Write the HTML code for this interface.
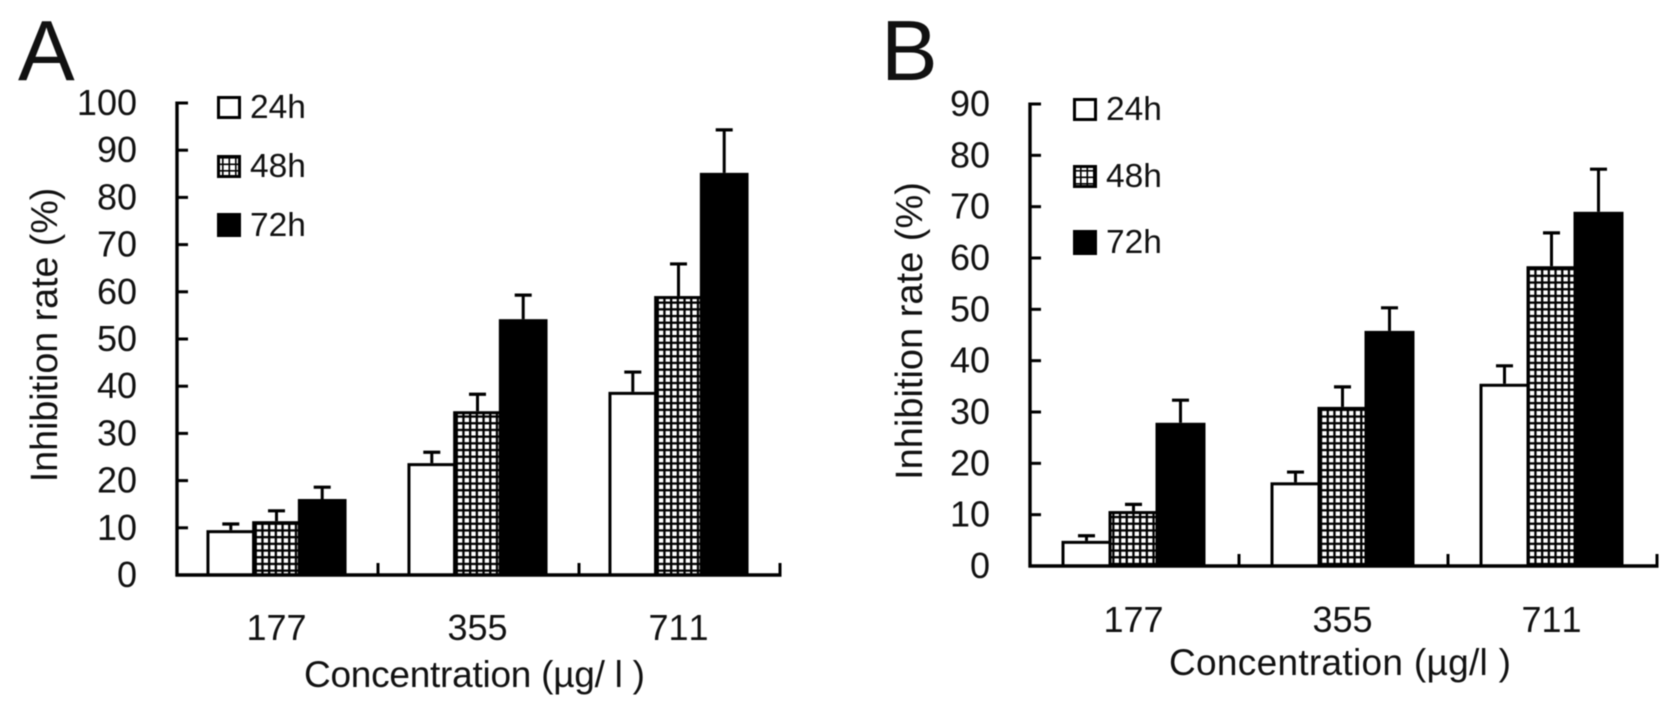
<!DOCTYPE html>
<html lang="en">
<head>
<meta charset="utf-8">
<title>Inhibition rate by concentration</title>
<style>
html,body{margin:0;padding:0;background:#fff;width:1677px;height:716px;overflow:hidden}
svg{display:block;filter:blur(0.45px)}
text{font-family:"Liberation Sans",Arial,sans-serif;fill:#111;font-kerning:none}
</style>
</head>
<body>
<svg id="figure" xmlns="http://www.w3.org/2000/svg" width="1677" height="716" viewBox="0 0 1677 716">
  <defs>
    <pattern id="grid-fill" width="6.7" height="6.7" patternUnits="userSpaceOnUse">
      <rect width="6.7" height="6.7" fill="#fff"/>
      <rect width="2.3" height="6.7" fill="#000"/>
      <rect width="6.7" height="2.3" fill="#000"/>
    </pattern>
    <pattern id="legend-grid-fill" width="6.5" height="6.5" patternUnits="userSpaceOnUse" x="1" y="1">
      <rect width="6.5" height="6.5" fill="#fff"/>
      <rect width="1.6" height="6.5" fill="#000"/>
      <rect width="6.5" height="1.6" fill="#000"/>
    </pattern>
  </defs>
  <rect width="1677" height="716" fill="#fff"/>

  <g id="panel-a">
    <text x="18" y="80" font-size="85">A</text>
    <text transform="translate(57,335) rotate(-90)" text-anchor="middle" font-size="37.6">Inhibition rate (%)</text>
    <text x="304" y="687" font-size="37" textLength="341" lengthAdjust="spacing">Concentration (µg/ l )</text>
    <g>
      <rect x="218.5" y="97.5" width="21" height="20" fill="#fff" stroke="#000" stroke-width="3"/>
      <text x="250" y="118" font-size="33.5">24h</text>
      <rect x="218.5" y="156.5" width="21" height="20" fill="url(#legend-grid-fill)" stroke="#000" stroke-width="3"/>
      <text x="250" y="177" font-size="33.5">48h</text>
      <rect x="217" y="213" width="24" height="24" fill="#000"/>
      <text x="250" y="236" font-size="33.5">72h</text>
    </g>
  </g>

  <g id="panel-b">
    <text x="881" y="80" font-size="85">B</text>
    <text transform="translate(922,331) rotate(-90)" text-anchor="middle" font-size="38">Inhibition rate (%)</text>
    <text x="1169" y="675" font-size="37" textLength="342" lengthAdjust="spacing">Concentration (µg/l )</text>
    <g>
      <rect x="1074.5" y="99.5" width="21" height="20" fill="#fff" stroke="#000" stroke-width="3"/>
      <text x="1106" y="120" font-size="33.5">24h</text>
      <rect x="1074.5" y="166.5" width="21" height="20" fill="url(#legend-grid-fill)" stroke="#000" stroke-width="3"/>
      <text x="1106" y="187" font-size="33.5">48h</text>
      <rect x="1073" y="230" width="24" height="25" fill="#000"/>
      <text x="1106" y="253" font-size="33.5">72h</text>
    </g>
  </g>
</svg>

<script>
const categories = ['177', '355', '711'];
const seriesNames = ['24h', '48h', '72h'];

const panelA24h = [9.5, 23.7, 38.8];
const panelA48h = [11.4, 34.7, 59.1];
const panelA72h = [16.1, 54.2, 85.2];
const panelAErr24h = [1.3, 2.3, 4.2];
const panelAErr48h = [2.2, 3.6, 6.8];
const panelAErr72h = [2.5, 5.1, 9.1];
const panelATicks = [0, 10, 20, 30, 40, 50, 60, 70, 80, 90, 100];

const panelB24h = [4.9, 16.3, 35.5];
const panelB48h = [10.7, 31.0, 58.4];
const panelB72h = [27.9, 45.8, 69.0];
const panelBErr24h = [1.0, 2.0, 3.5];
const panelBErr48h = [1.3, 3.9, 6.5];
const panelBErr72h = [4.4, 4.5, 8.3];
const panelBTicks = [0, 10, 20, 30, 40, 50, 60, 70, 80, 90];

const SVG_NS = 'http://www.w3.org/2000/svg';
const BAR_STROKE = 3;

function make(tag, attrs, parent) {
  const node = document.createElementNS(SVG_NS, tag);
  for (const key in attrs) node.setAttribute(key, attrs[key]);
  parent.appendChild(node);
  return node;
}

function drawPanel(opts) {
  const root = document.getElementById(opts.rootId);
  const yMax = opts.ticks[opts.ticks.length - 1];
  const yScale = v => opts.y0 - (v / yMax) * (opts.y0 - opts.yTop);
  const catWidth = (opts.xEnd - opts.x0) / categories.length;
  const barWidth = opts.barWidth;
  const barX = (c, s) => opts.x0 + catWidth * (c + 0.5) - 1 - 1.5 * barWidth + s * barWidth;
  const fills = ['#fff', 'url(#grid-fill)', '#000'];

  // error bars sit behind the bars
  opts.series.forEach((values, s) => {
    values.forEach((value, c) => {
      const cx = barX(c, s) + barWidth / 2;
      const top = yScale(value + opts.errors[s][c]);
      const stem = make('line', {x1: cx, x2: cx, y1: yScale(value), y2: top, stroke: '#000', 'stroke-width': 3}, root);
      
      
      const cap = make('line', {x1: cx - 8.5, x2: cx + 8.5, y1: top, y2: top, stroke: '#000', 'stroke-width': 3.2}, root);
      
      
    });
  });

  opts.series.forEach((values, s) => {
    values.forEach((value, c) => {
      const top = yScale(value) + BAR_STROKE / 2;
      const bar = make('rect', {
        x: barX(c, s), y: top, width: barWidth, height: Math.max(0, opts.y0 - top),
        fill: fills[s], stroke: '#000', 'stroke-width': BAR_STROKE
      }, root);
      
      
    });
  });

  const yAxis = make('line', {x1: opts.x0, x2: opts.x0, y1: opts.yTop - 1.5, y2: opts.y0 + 1.5, stroke: '#000', 'stroke-width': 3.4}, root);
  
  
  const xAxis = make('line', {x1: opts.x0 - 1.5, x2: opts.xEnd + 1.5, y1: opts.y0, y2: opts.y0, stroke: '#000', 'stroke-width': 3.4}, root);
  
  

  opts.ticks.forEach(tick => {
    const y = yScale(tick);
    const mark = make('line', {x1: opts.x0, x2: opts.x0 + 11, y1: y, y2: y, stroke: '#000', 'stroke-width': 3}, root);
    
    
    const label = make('text', {x: opts.labelRight, y: y + 12, 'text-anchor': 'end', 'font-size': 36}, root);
    label.textContent = String(tick);
    
    
  });

  for (let i = 1; i <= categories.length; i++) {
    const x = opts.x0 + catWidth * i;
    const mark = make('line', {x1: x, x2: x, y1: opts.y0, y2: opts.y0 - 12, stroke: '#000', 'stroke-width': 3}, root);
    
    
  }

  categories.forEach((name, c) => {
    const label = make('text', {x: opts.x0 + catWidth * (c + 0.5) - 1, y: opts.catBaseline, 'text-anchor': 'middle', 'font-size': 36}, root);
    label.textContent = name;
    
    
  });
}

drawPanel({
  rootId: 'panel-a', x0: 177, xEnd: 780, y0: 575, yTop: 103, barWidth: 45.7,
  labelRight: 137, catBaseline: 640, ticks: panelATicks,
  series: [panelA24h, panelA48h, panelA72h],
  errors: [panelAErr24h, panelAErr48h, panelAErr72h]
});
drawPanel({
  rootId: 'panel-b', x0: 1030, xEnd: 1657, y0: 566, yTop: 104, barWidth: 47,
  labelRight: 990, catBaseline: 632, ticks: panelBTicks,
  series: [panelB24h, panelB48h, panelB72h],
  errors: [panelBErr24h, panelBErr48h, panelBErr72h]
});
</script>
</body>
</html>
